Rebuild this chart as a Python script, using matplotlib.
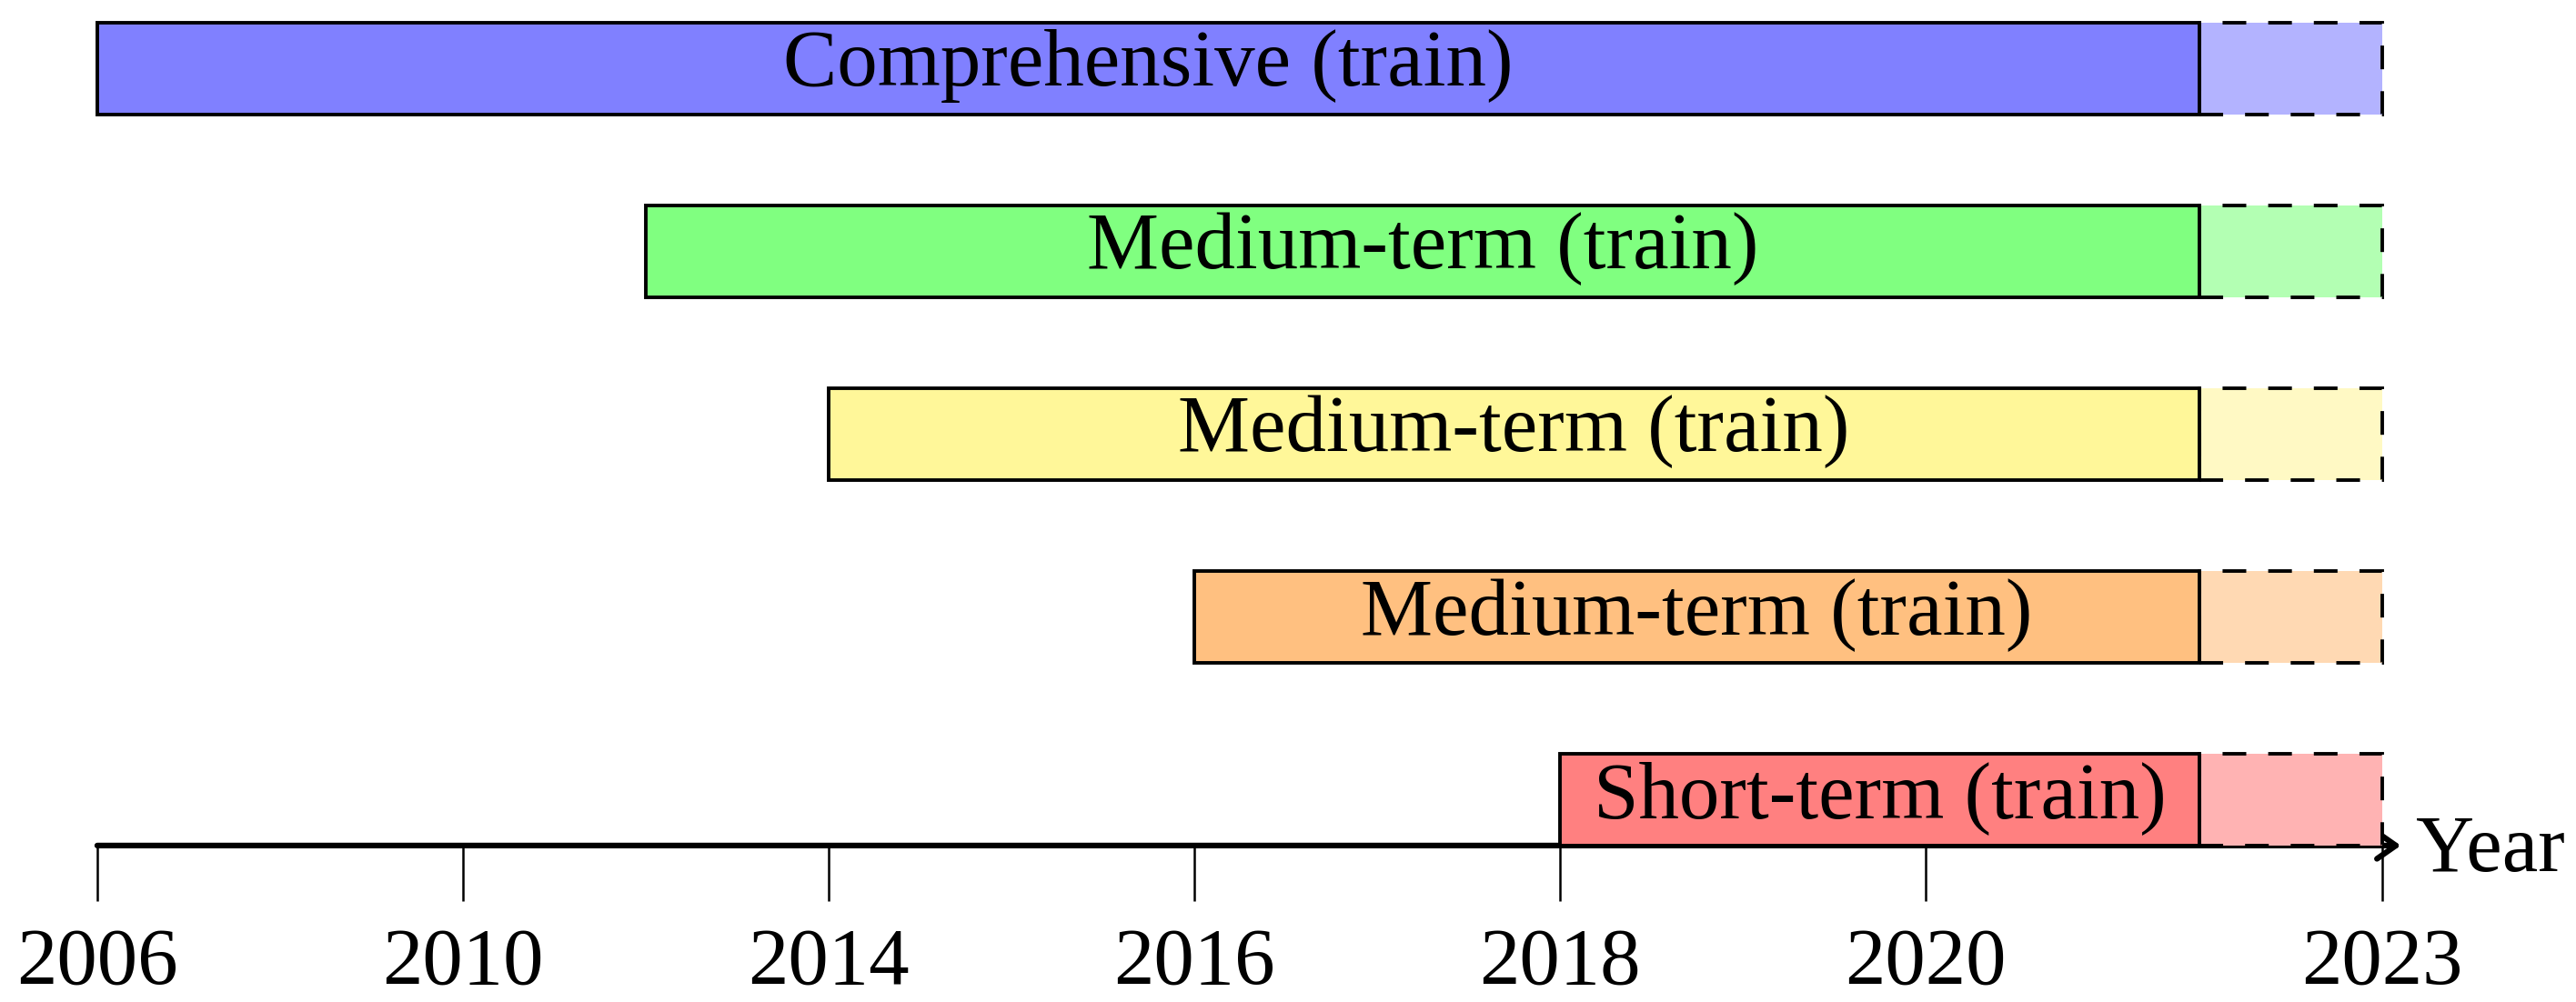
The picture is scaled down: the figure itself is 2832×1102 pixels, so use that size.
import matplotlib
matplotlib.use("Agg")
import matplotlib.pyplot as plt
from matplotlib.patches import Rectangle

# ---- data ----
tick_positions = [0, 1, 2, 3, 4, 5, 6.25]
tick_labels = ["2006", "2010", "2014", "2016", "2018", "2020", "2023"]
bar_labels = ["Comprehensive (train)", "Medium-term (train)", "Medium-term (train)",
              "Medium-term (train)", "Short-term (train)"]
bar_starts = [0, 1.5, 2, 3, 4]
train_end = 5.75
test_end = 6.25
train_colors = ["#8080FF", "#80FF80", "#FFF799", "#FFC080", "#FF8080"]
test_colors = ["#B3B3FF", "#B3FFB3", "#FFF9C4", "#FFD9B3", "#FFB3B3"]
axis_label = "Year"

# ---- layout ----
font = ["Liberation Serif", "DejaVu Serif"]
fs = 64
fig = plt.figure(figsize=(28.32, 11.02), dpi=100)
ax = fig.add_axes([0, 0, 1, 1])
ax.set_xlim(-0.266, 6.779)
ax.set_ylim(-0.428, 2.313)
ax.axis("off")

bar_h = 0.25
row_gap = 0.5
n = len(bar_labels)
for i, (lab, s, c1, c2) in enumerate(zip(bar_labels, bar_starts, train_colors, test_colors)):
    y0 = (n - 1 - i) * row_gap
    ax.add_patch(Rectangle((train_end, y0), test_end - train_end, bar_h,
                           facecolor=c2, edgecolor="black", lw=2.8,
                           linestyle=(0, (6.7, 6.2)), zorder=2))
    ax.add_patch(Rectangle((s, y0), train_end - s, bar_h,
                           facecolor=c1, edgecolor="black", lw=2.8, zorder=3))
    ax.text((s + train_end) / 2, y0 + 0.078, lab, ha="center", va="baseline",
            fontsize=fs, family=font, zorder=5)

# axis (drawn beneath the bars)
ax.annotate("", xy=(6.3, 0), xytext=(0, 0),
            arrowprops=dict(arrowstyle="->,head_length=0.5,head_width=0.35",
                            mutation_scale=30, lw=4.5, color="black",
                            shrinkA=0, shrinkB=0),
            zorder=1)
for p, t in zip(tick_positions, tick_labels):
    ax.plot([p, p], [0, -0.152], color="black", lw=1.8, zorder=1, solid_capstyle="butt")
    ax.text(p, -0.376, t, ha="center", va="baseline", fontsize=fs, family=font)
ax.text(6.34, -0.07, axis_label, ha="left", va="baseline", fontsize=fs, family=font)

fig.savefig("out.png", dpi=100)
